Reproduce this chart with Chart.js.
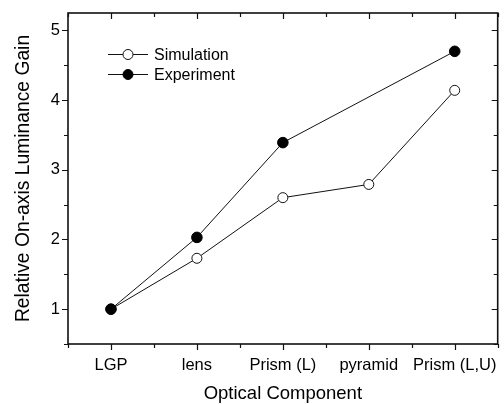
<!DOCTYPE html>
<html><head><meta charset="utf-8">
<script src="https://cdn.jsdelivr.net/npm/chart.js@4/dist/chart.umd.min.js"></script>
<style>html,body{margin:0;padding:0;background:#fff;}canvas{display:block;}</style>
</head><body>
<canvas id="c" width="504" height="404"></canvas>
<script>
const categories = ['LGP', 'lens', 'Prism (L)', 'pyramid', 'Prism (L,U)'];
const simulation = [1.0, 1.73, 2.60, 2.79, 4.14];
const experiment = [1.0, 2.03, 3.39, null, 4.70];
const seriesNames = ['Simulation', 'Experiment'];
const yTicks = [1, 2, 3, 4, 5];
const yMinorTicks = [0.5, 1.5, 2.5, 3.5, 4.5];
const yMin = 0.5, yMax = 5.25;
const xTitle = 'Optical Component';
const yTitle = 'Relative On-axis Luminance Gain';

const FONT = "'Liberation Sans', Arial, sans-serif";
const INK = '#111';

const framePlugin = {
  id: 'frame',
  afterDraw(chart) {
    const {ctx, chartArea: {left, right, top, bottom}, scales: {x, y}} = chart;
    ctx.save();
    ctx.strokeStyle = INK;
    ctx.lineWidth = 1.6;
    ctx.strokeRect(left, top, right - left, bottom - top);
    ctx.lineWidth = 1.2;
    const maj = 6, mn = 4;
    ctx.beginPath();
    yTicks.forEach(v => {
      const p = Math.round(y.getPixelForValue(v)) + 0.5;
      ctx.moveTo(left - maj, p); ctx.lineTo(left, p);
      ctx.moveTo(right, p); ctx.lineTo(right - maj, p);
    });
    yMinorTicks.forEach(v => {
      const p = Math.round(y.getPixelForValue(v)) + 0.5;
      ctx.moveTo(left - mn, p); ctx.lineTo(left, p);
      ctx.moveTo(right, p); ctx.lineTo(right - mn, p);
    });
    const px = categories.map((c, i) => x.getPixelForValue(i));
    px.forEach(p0 => {
      const p = Math.round(p0) + 0.5;
      ctx.moveTo(p, bottom); ctx.lineTo(p, bottom + maj);
      ctx.moveTo(p, top); ctx.lineTo(p, top + maj);
    });
    const step = px[1] - px[0];
    for (let i = 0; i <= categories.length; i++) {
      const p = Math.round(px[0] - step / 2 + i * step) + 0.5;
      ctx.moveTo(p, bottom); ctx.lineTo(p, bottom + mn);
      ctx.moveTo(p, top); ctx.lineTo(p, top + mn);
    }
    ctx.stroke();
    ctx.restore();
  }
};

const legendPlugin = {
  id: 'innerLegend',
  afterDatasetsDraw(chart) {
    const {ctx, chartArea: {left, top}} = chart;
    ctx.save();
    const rows = [chart.data.datasets[0], chart.data.datasets[1]];
    rows.forEach((ds, i) => {
      const yy = top + 41.5 + i * 20;
      const x0 = left + 40, x1 = left + 80, xm = left + 60;
      ctx.strokeStyle = ds.borderColor;
      ctx.lineWidth = 1;
      ctx.beginPath();
      ctx.moveTo(x0, yy); ctx.lineTo(x1, yy);
      ctx.stroke();
      ctx.beginPath();
      ctx.arc(xm, yy, 5, 0, Math.PI * 2);
      ctx.fillStyle = ds.pointBackgroundColor;
      ctx.fill();
      ctx.strokeStyle = ds.pointBorderColor;
      ctx.stroke();
      ctx.fillStyle = '#000';
      ctx.font = '16px ' + FONT;
      ctx.textBaseline = 'middle';
      ctx.textAlign = 'left';
      ctx.fillText(ds.label, left + 86, yy + 1);
    });
    ctx.restore();
  }
};

new Chart(document.getElementById('c'), {
  type: 'line',
  data: {
    labels: categories,
    datasets: [
      {
        label: seriesNames[0], data: simulation, order: 1,
        borderColor: INK, borderWidth: 1,
        pointRadius: 5, pointBorderWidth: 1,
        pointBackgroundColor: '#fff', pointBorderColor: INK,
        tension: 0, spanGaps: true
      },
      {
        label: seriesNames[1], data: experiment, order: 0,
        borderColor: INK, borderWidth: 1,
        pointRadius: 5.3, pointBorderWidth: 1,
        pointBackgroundColor: '#000', pointBorderColor: '#000',
        tension: 0, spanGaps: true
      }
    ]
  },
  options: {
    responsive: false,
    animation: false,
    devicePixelRatio: 1,
    layout: {padding: {left: 0, right: 6, top: 13, bottom: 0}},
    plugins: {legend: {display: false}, tooltip: {enabled: false}},
    scales: {
      x: {
        type: 'category',
        offset: true,
        grid: {display: false, drawTicks: false},
        border: {display: false},
        ticks: {color: '#000', font: {family: FONT, size: 16.5}, padding: 12, maxRotation: 0, autoSkip: false},
        title: {display: true, text: xTitle, color: '#000', font: {family: FONT, size: 18.5}, padding: {top: 0, bottom: -1}},
        afterFit(s) { s.height = 60; s.paddingLeft = 0; s.paddingRight = 0; }
      },
      y: {
        type: 'linear',
        min: yMin, max: yMax,
        grid: {display: false, drawTicks: false},
        border: {display: false},
        afterBuildTicks(s) { s.ticks = yTicks.map(v => ({value: v})); },
        ticks: {color: '#000', font: {family: FONT, size: 16.5}, padding: 8},
        title: {display: true, text: yTitle, color: '#000', font: {family: FONT, size: 19.3}, padding: {top: 12, bottom: 0}},
        afterFit(s) { s.width = 68; s.paddingTop = 0; s.paddingBottom = 0; }
      }
    }
  },
  plugins: [framePlugin, legendPlugin]
});
</script>
</body></html>
